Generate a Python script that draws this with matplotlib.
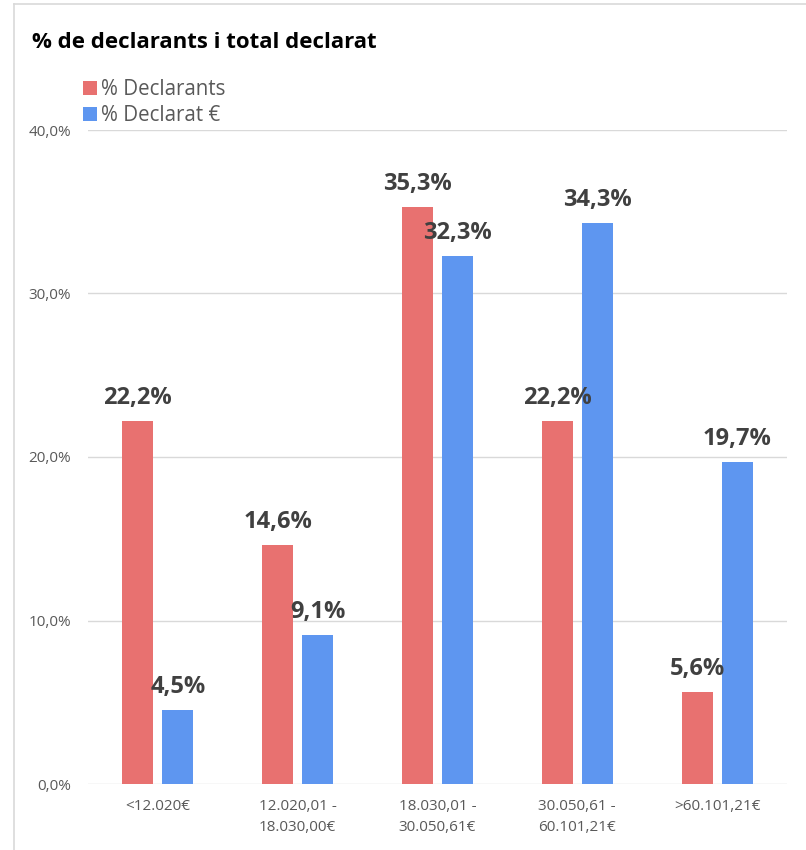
import matplotlib
matplotlib.use("Agg")
import matplotlib.pyplot as plt
from matplotlib.lines import Line2D
import numpy as np

categories = ["<12.020€", "12.020,01 -\n18.030,00€", "18.030,01 -\n30.050,61€",
              "30.050,61 -\n60.101,21€", ">60.101,21€"]
declarants = [22.2, 14.6, 35.3, 22.2, 5.6]
declarat = [4.5, 9.1, 32.3, 34.3, 19.7]
series_names = ["% Declarants", "% Declarat €"]
yticks = [0, 10, 20, 30, 40]

RED = "#E87170"
BLUE = "#5E96F0"
FONT = ["Open Sans", "DejaVu Sans"]
plt.rcParams["font.family"] = FONT

W, H = 806, 850
fig = plt.figure(figsize=(W / 100, H / 100), dpi=100)

# outer frame lines
fig.add_artist(Line2D([14 / W, 14 / W], [0, 1 - 4 / H], color="#d9d9d9", lw=1.2,
                      transform=fig.transFigure))
fig.add_artist(Line2D([14 / W, 1], [1 - 4 / H, 1 - 4 / H], color="#d9d9d9", lw=1.2,
                      transform=fig.transFigure))

left, right, top, bottom = 88, 787, 130, 784
ax = fig.add_axes([left / W, 1 - bottom / H, (right - left) / W, (bottom - top) / H])

x = np.arange(len(categories))
bw = 0.222
off = 0.143
b1 = ax.bar(x - off, declarants, bw, color=RED, label=series_names[0], zorder=3)
b2 = ax.bar(x + off, declarat, bw, color=BLUE, label=series_names[1], zorder=3)

for bars, vals in ((b1, declarants), (b2, declarat)):
    for rect, v in zip(bars, vals):
        ax.annotate(f"{v:.1f}%".replace(".", ","),
                    (rect.get_x() + rect.get_width() / 2, v),
                    xytext=(0, 8), textcoords="offset points",
                    ha="center", va="bottom", fontsize=17, fontweight="bold",
                    color="#404040", zorder=5)

ax.set_xlim(-0.5, len(categories) - 0.5)
ax.set_ylim(0, 40)
ax.set_yticks(yticks)
ax.set_yticklabels([f"{t:.1f}%".replace(".", ",") for t in yticks])
ax.set_xticks(x)
ax.set_xticklabels(categories, linespacing=1.55)
ax.tick_params(axis="both", length=0, colors="#595959", labelsize=11)
ax.tick_params(axis="y", pad=12)
ax.tick_params(axis="x", pad=11)
ax.grid(axis="y", color="#d9d9d9", lw=1.0, zorder=0)
for s in ax.spines.values():
    s.set_visible(False)

fig.text(32 / W, 1 - 42 / H, "% de declarants i total declarat", fontsize=16,
         fontweight="bold", color="black", va="center", ha="left")

fig.legend(handles=[b1, b2], loc="upper left", bbox_to_anchor=(83 / W, 1 - 79 / H),
           frameon=False, fontsize=14.8, handlelength=0.68, handleheight=0.68,
           handletextpad=0.2, labelspacing=0.25, labelcolor="#595959",
           borderaxespad=0, borderpad=0)

fig.savefig("out.png", dpi=100)
